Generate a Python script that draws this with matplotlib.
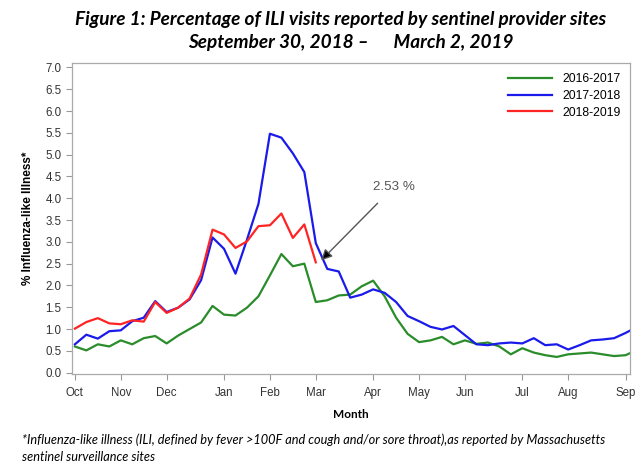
import numpy as np
import matplotlib.pyplot as plt

# 週番号 (10月第1週 = 0)
weeks_1617 = list(range(50))
weeks_1718 = list(range(50))
weeks_1819 = list(range(22))

ili_1617 = [0.60, 0.51, 0.65, 0.60, 0.74, 0.65, 0.79, 0.84, 0.67, 0.85,
            1.00, 1.15, 1.53, 1.33, 1.31, 1.49, 1.75, 2.23, 2.72, 2.44,
            2.50, 1.62, 1.66, 1.77, 1.79, 1.98, 2.11, 1.75, 1.26, 0.89,
            0.70, 0.74, 0.82, 0.65, 0.74, 0.66, 0.69, 0.60, 0.42, 0.56,
            0.46, 0.40, 0.36, 0.42, 0.44, 0.46, 0.42, 0.38, 0.40, 0.52]
ili_1718 = [0.65, 0.87, 0.78, 0.95, 0.97, 1.18, 1.26, 1.64, 1.39, 1.49,
            1.68, 2.12, 3.10, 2.84, 2.27, 3.05, 3.87, 5.48, 5.39, 5.03,
            4.60, 2.97, 2.38, 2.32, 1.72, 1.79, 1.91, 1.83, 1.62, 1.30,
            1.18, 1.05, 0.99, 1.07, 0.86, 0.65, 0.63, 0.67, 0.69, 0.67,
            0.79, 0.63, 0.65, 0.53, 0.63, 0.74, 0.76, 0.79, 0.91, 1.05]
ili_1819 = [1.01, 1.16, 1.25, 1.13, 1.11, 1.20, 1.17, 1.62, 1.37, 1.49,
            1.70, 2.25, 3.28, 3.17, 2.86, 3.01, 3.36, 3.38, 3.65, 3.09,
            3.40, 2.53]

month_weeks = [0, 4, 8, 13, 17, 21, 26, 30, 34, 39, 43, 48]
month_labels = ['Oct', 'Nov', 'Dec', 'Jan', 'Feb', 'Mar', 'Apr', 'May',
                'Jun', 'Jul', 'Aug', 'Sep']

title_font = ['Lato', 'DejaVu Sans']
plt.rcParams['font.family'] = ['Liberation Sans', 'DejaVu Sans']

fig = plt.figure(figsize=(6.43, 4.71), dpi=100)
ax = fig.add_axes([0.112, 0.207, 0.868, 0.659])

ax.plot(weeks_1617, ili_1617, color='#2a8c2a', lw=1.6, label='2016-2017')
ax.plot(weeks_1718, ili_1718, color='#1a1aeb', lw=1.6, label='2017-2018')
ax.plot(weeks_1819, ili_1819, color='#ff2424', lw=1.6, label='2018-2019')

ax.set_xlim(-0.25, 48.4)
ax.set_ylim(-0.02, 7.1)
ax.set_xticks(month_weeks)
ax.set_xticklabels(month_labels)
ax.set_yticks(np.arange(0, 7.01, 0.5))
ax.set_yticklabels([f'{v:.1f}' for v in np.arange(0, 7.01, 0.5)])
ax.tick_params(labelsize=8.3, colors='#333333', length=4, width=0.8)
ax.tick_params(axis='both', color='#999999')
ax.tick_params(axis='x', pad=6)
for s in ax.spines.values():
    s.set_color('#aaaaaa')
    s.set_linewidth(0.9)

ax.set_ylabel('% Influenza-like Illness*', fontsize=8.5, fontweight='bold',
              family=['Liberation Sans Narrow', 'Liberation Sans'], labelpad=8)
ax.set_xlabel('Month', fontsize=8.5, fontweight='bold', family=title_font,
              labelpad=7)

ax.legend(loc='upper right', frameon=False, fontsize=8.8, handlelength=3.6,
          labelspacing=0.4, borderaxespad=0.4)

# 最新値の注釈
ax.annotate('2.53 %', xy=(21.3, 2.53), xytext=(26.0, 4.2),
            fontsize=9.6, color='#555555',
            arrowprops=dict(arrowstyle='-|>', color='#555555', lw=1,
                            mutation_scale=16, fc='black', shrinkA=8))

fig.text(0.53, 0.958, 'Figure 1: Percentage of ILI visits reported by sentinel provider sites',
         ha='center', va='center', fontsize=13.7, fontweight='bold',
         style='italic', family=title_font)
fig.text(0.545, 0.91, 'September 30, 2018 \u2013      March 2, 2019',
         ha='center', va='center', fontsize=13.7, fontweight='bold',
         style='italic', family=title_font)

fig.text(0.034, 0.066, '*Influenza-like illness (ILI, defined by fever >100F and cough and/or sore throat),as reported by Massachusetts',
         fontsize=9.2, style='italic', family=title_font, va='center')
fig.text(0.034, 0.030, 'sentinel surveillance sites',
         fontsize=9.2, style='italic', family=title_font, va='center')

fig.savefig('out.png', dpi=100)
